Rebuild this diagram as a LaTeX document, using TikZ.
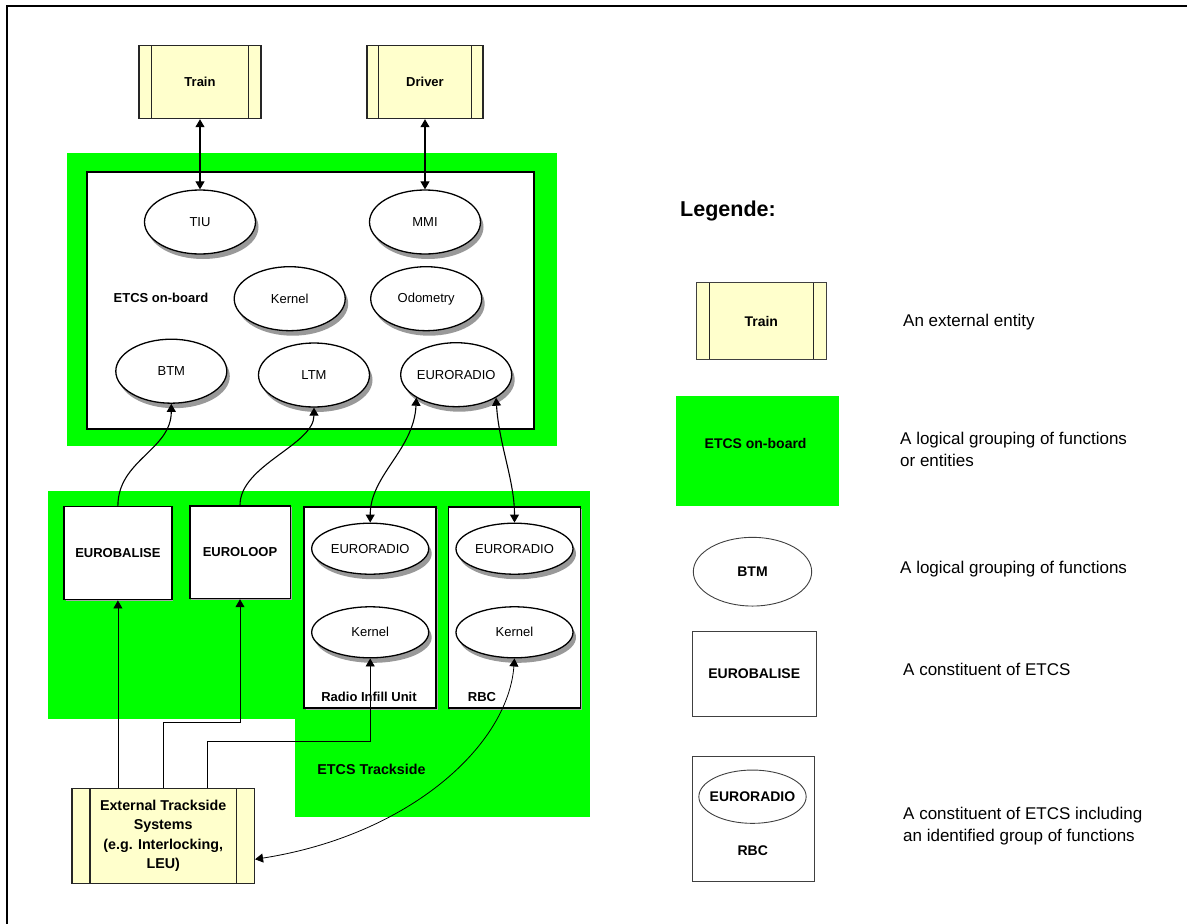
\documentclass[tikz,border=0pt]{standalone}
\usepackage{fontspec}
\setmainfont{Liberation Sans}
\usetikzlibrary{arrows.meta,shapes.geometric,shadows}

\definecolor{grn}{HTML}{00FF00}
\definecolor{ylw}{HTML}{FFFFCC}

\begin{document}
\begin{tikzpicture}[x=1pt,y=-1pt,
  >={Triangle[length=8pt,width=9pt]},
  lbl/.style={inner sep=0pt,font=\fontsize{13}{15}\selectfont},
  blbl/.style={inner sep=0pt,font=\fontsize{13}{15}\selectfont\bfseries},
  extbox/.style={draw=black!85, line width=1.4pt, fill=ylw, inner sep=0pt, align=center,
     font=\fontsize{13}{19}\selectfont\bfseries,
     path picture={\draw[line width=1.4pt,black!85]
       ([xshift=#1]path picture bounding box.north west) -- ([xshift=#1]path picture bounding box.south west)
       ([xshift=-#1]path picture bounding box.north east) -- ([xshift=-#1]path picture bounding box.south east);}},
  func/.style={ellipse, draw, line width=1.3pt, fill=white, inner xsep=-14pt, inner ysep=0pt,
     minimum width=111pt, minimum height=64pt, font=\fontsize{13}{15}\selectfont,
     drop shadow={shadow xshift=3pt, shadow yshift=-5pt, opacity=1, fill=black!40}},
  cbox/.style={draw, line width=1.5pt, fill=white, inner sep=0pt,
     drop shadow={shadow xshift=1.5pt, shadow yshift=-1.5pt, opacity=1, fill=black!35}},
  link/.style={line width=1.1pt},
  thinlink/.style={line width=0.8pt},
  legline/.style={draw=black!75, line width=0.9pt, inner sep=0pt},
  legtext/.style={anchor=west, inner sep=0pt, align=left, font=\fontsize{17}{22.4}\selectfont},
  legbold/.style={font=\fontsize{14}{16}\selectfont\bfseries}
]
\useasboundingbox (0,0) rectangle (1187,924);

% page frame (top and left edges)
\draw[line width=2pt] (7,934) -- (7,6) -- (1197,6);

% ---------------- on-board part ----------------
\fill[grn] (67,153) rectangle (557,446);
\node[draw, line width=1.8pt, fill=white, minimum width=447pt, minimum height=257pt, inner sep=0pt]
  (obbox) at (310.5,300.5) {};

\node[extbox=12.5pt, minimum width=122pt, minimum height=73pt] (train) at (200,82) {Train};
\node[extbox=11.5pt, minimum width=116pt, minimum height=73pt] (driver) at (425,82) {Driver};

\node[func] (tiu) at (200,222) {TIU};
\node[func] (mmi) at (425,222) {MMI};
\node[func] (kernel) at (289.7,298.7) {Kernel};
\node[func] (odo) at (426.2,298.7) {Odometry};
\node[func] (btm) at (171.3,371.2) {BTM};
\node[func] (ltm) at (314,375) {LTM};
\node[func] (obradio) at (456.2,374.7) {EURORADIO};
\node[blbl] (oblabel) at (161,298.3) {ETCS on-board};

\draw[link,<->] (train.south) -- (tiu.north);
\draw[link,<->] (driver.south) -- (mmi.north);

% ---------------- trackside part ----------------
\fill[grn] (48,491) rectangle (590,719);
\fill[grn] (295,700) rectangle (590,817);

\node[cbox, minimum width=107.7pt, minimum height=93pt, blbl] (ebal) at (117.9,553.2) {EUROBALISE};
\node[cbox, minimum width=100.5pt, minimum height=92.5pt, blbl] (eloop) at (240,552.2) {EUROLOOP};
\node[cbox, minimum width=132pt, minimum height=201pt] (riu) at (370.2,607.5) {};
\node[cbox, minimum width=132pt, minimum height=201pt] (rbc) at (514.5,607.5) {};

\node[func, minimum width=117pt, minimum height=51pt] (riuradio) at (370.2,548.7) {EURORADIO};
\node[func, minimum width=117pt, minimum height=51pt] (riukernel) at (370.2,632.3) {Kernel};
\node[func, minimum width=117pt, minimum height=51pt] (rbcradio) at (514.5,548.7) {EURORADIO};
\node[func, minimum width=117pt, minimum height=51pt] (rbckernel) at (514.5,632.3) {Kernel};

\node[blbl] (riulabel) at (369,697) {Radio Infill Unit};
\node[blbl] (rbclabel) at (482,697) {RBC};
\node[inner sep=0pt, font=\fontsize{14.3}{16}\selectfont\bfseries] (tslabel) at (371.5,769) {ETCS Trackside};

\node[extbox=18pt, minimum width=182.3pt, minimum height=95pt, font=\fontsize{14.3}{19.2}\selectfont\bfseries]
  (ext) at (163.2,835.8) {External Trackside\\Systems\\(e.g. Interlocking,\\LEU)};

% air gap and radio links
\draw[link,->] (ebal.north) .. controls (117.9,460) and (171.3,450) .. (btm.south);
\draw[link,->] (eloop.north) .. controls (240,465) and (314,445) .. (ltm.south);
\draw[link,<->] (obradio.210) .. controls (414,450) and (370.2,475) .. (riuradio.north);
\draw[link,<->] (obradio.330) .. controls (499,445) and (514.5,480) .. (rbcradio.north);

% links from the external trackside systems
\draw[thinlink,->] (ext.north -| ebal.south) -- (ebal.south);
\draw[thinlink,->] (ext.north) -- ++(0,-65) -| (eloop.south);
\draw[thinlink,->] ([xshift=44.4pt]ext.north) -- ++(0,-46) -| (riukernel.south);
\draw[thinlink,<->] (rbckernel.south) .. controls (508,745) and (410,835) .. ([yshift=-23.5pt]ext.east);

% ---------------- legend ----------------
\node[anchor=west, inner sep=0pt, font=\fontsize{21.5}{24}\selectfont\bfseries] (legtitle) at (680,211) {Legende:};

\node[extbox=13pt, draw=black!75, line width=1pt, minimum width=130pt, minimum height=77pt,
  font=\fontsize{14}{16}\selectfont\bfseries] (legtrain) at (761.3,321.3) {Train};
\node[legtext] (legtrainTxt) at (903,321.7) {An external entity};

\node[fill=grn, minimum width=162.7pt, minimum height=109.7pt, inner sep=0pt] (leggrp) at (757.6,450.8) {};
\node[legbold, inner sep=0pt] (leggrpLbl) at (755.6,443.3) {ETCS on-board};
\node[legtext] (leggrpTxt) at (900,449.5) {A logical grouping of functions\\or entities};

\node[ellipse, legline, inner xsep=-14pt, minimum width=118.4pt, minimum height=68.7pt, legbold] (legbtm) at (752.5,571.7) {BTM};
\node[legtext] (legbtmTxt) at (900,569) {A logical grouping of functions};

\node[legline, minimum width=124.5pt, minimum height=85pt, legbold] (legbal) at (754.2,673.5) {EUROBALISE};
\node[legtext] (legbalTxt) at (903,669) {A constituent of ETCS};

\node[legline, minimum width=122pt, minimum height=125.7pt] (legrbc) at (753,818.8) {};
\node[ellipse, legline, inner xsep=-16pt, minimum width=107.3pt, minimum height=53.3pt, legbold] (legradio) at (752.5,796.7) {EURORADIO};
\node[legbold, inner sep=0pt] (legrbcLbl) at (752.8,850.7) {RBC};
\node[legtext] (legrbcTxt) at (903,826.2) {A constituent of ETCS including\\an identified group of functions};

\end{tikzpicture}
\end{document}
